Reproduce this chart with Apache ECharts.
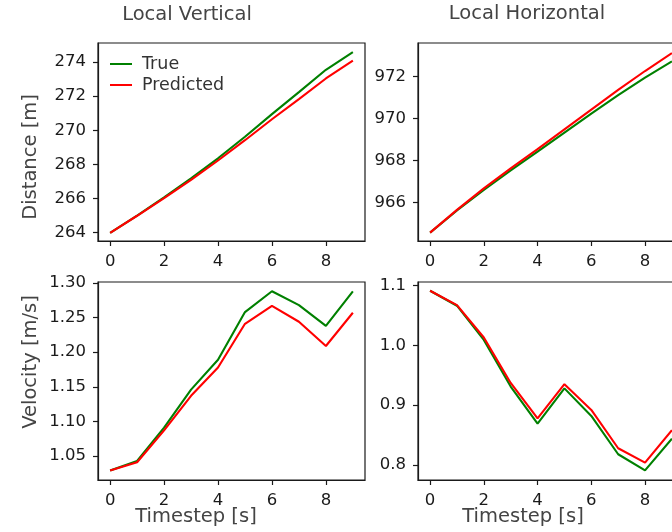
<!DOCTYPE html>
<html>
<head>
<meta charset="utf-8">
<script src="https://cdn.jsdelivr.net/npm/echarts@6/dist/echarts.min.js"></script>
<style>
  html, body { margin: 0; padding: 0; background: #fff; }
  #chart { width: 672px; height: 532px; }
</style>
</head>
<body>
<div id="chart"></div>
<script>
// Timesteps shared by every panel
const steps = [0, 1, 2, 3, 4, 5, 6, 7, 8, 9];

// Local vertical distance [m]
const vertDistTrue = [263.98, 265.00, 266.07, 267.18, 268.36, 269.62, 270.95, 272.24, 273.55, 274.59];
const vertDistPred = [263.98, 264.99, 266.03, 267.10, 268.23, 269.42, 270.65, 271.83, 273.04, 274.08];

// Local horizontal distance [m]
const horizDistTrue = [964.58, 965.63, 966.60, 967.53, 968.42, 969.33, 970.23, 971.10, 971.94, 972.71];
const horizDistPred = [964.58, 965.66, 966.68, 967.63, 968.54, 969.48, 970.42, 971.35, 972.25, 973.10];

// Local vertical velocity [m/s]
const vertVelTrue = [1.029, 1.043, 1.091, 1.146, 1.189, 1.258, 1.288, 1.268, 1.238, 1.288];
const vertVelPred = [1.029, 1.041, 1.087, 1.137, 1.178, 1.241, 1.267, 1.244, 1.209, 1.257];

// Local horizontal velocity [m/s]
const horizVelTrue = [1.091, 1.066, 1.009, 0.931, 0.869, 0.928, 0.882, 0.818, 0.791, 0.844];
const horizVelPred = [1.091, 1.067, 1.013, 0.937, 0.878, 0.935, 0.892, 0.828, 0.804, 0.858];

// Tick values
const stepTicks = [0, 2, 4, 6, 8];
const vertDistTicks = [264, 266, 268, 270, 272, 274];
const horizDistTicks = [966, 968, 970, 972];
const vertVelTicks = [1.05, 1.10, 1.15, 1.20, 1.25, 1.30];
const horizVelTicks = [0.8, 0.9, 1.0, 1.1];

// Text
const colTitles = ['Local Vertical', 'Local Horizontal'];
const rowTitles = ['Distance [m]', 'Velocity [m/s]'];
const xTitle = 'Timestep [s]';
const seriesNames = ['True', 'Predicted'];

const GREEN = '#008000';
const RED = '#ff0000';
const FONT = '"DejaVu Sans", sans-serif';
const INK = '#1a1a1a';
const TICK_SIZE = 16.5;
const TITLE_SIZE = 19.5;

const pairs = vals => steps.map((s, i) => [s, vals[i]]);

// The right-hand column runs past the page edge
const grids = [
  { left: 98, top: 43, width: 267, height: 198 },
  { left: 418, top: 43, width: 266, height: 198 },
  { left: 98, top: 282, width: 267, height: 198 },
  { left: 418, top: 282, width: 266, height: 198 }
].map(g => Object.assign({
  show: true, borderColor: INK, borderWidth: 1.2, backgroundColor: '#fff',
  containLabel: false, outerBoundsMode: 'none'
}, g));

function xAxis(i) {
  return {
    type: 'value', gridIndex: i, min: -0.45, max: 9.45,
    splitLine: { show: false },
    axisLine: { show: true, onZero: false, lineStyle: { color: INK, width: 1.2 } },
    axisTick: { show: true, length: 5, customValues: stepTicks, lineStyle: { color: INK, width: 1.2 } },
    axisLabel: { customValues: stepTicks, margin: 12, fontSize: TICK_SIZE, color: INK, fontFamily: FONT }
  };
}

function yAxis(i, min, max, ticks, digits) {
  return {
    type: 'value', gridIndex: i, min: min, max: max,
    splitLine: { show: false },
    axisLine: { show: true, onZero: false, lineStyle: { color: INK, width: 1.2 } },
    axisTick: { show: true, length: 5, customValues: ticks, lineStyle: { color: INK, width: 1.2 } },
    axisLabel: {
      customValues: ticks, margin: 12, fontSize: TICK_SIZE, color: INK, fontFamily: FONT,
      formatter: v => Number(v).toFixed(digits)
    }
  };
}

function line(name, i, vals, color) {
  return {
    name: name, type: 'line', xAxisIndex: i, yAxisIndex: i,
    data: pairs(vals), symbol: 'none', showSymbol: false,
    lineStyle: { color: color, width: 2.1 }, itemStyle: { color: color },
    emphasis: { disabled: true }
  };
}

function label(text, x, y, size, rotate) {
  return {
    type: 'text', x: x, y: y, rotation: rotate ? Math.PI / 2 : 0,
    style: {
      text: text, fontSize: size, fontFamily: FONT, fill: '#444',
      textAlign: 'center', textVerticalAlign: 'middle'
    }
  };
}

const chart = echarts.init(document.getElementById('chart'), null, { renderer: 'canvas' });
chart.setOption({
  animation: false,
  backgroundColor: '#fff',
  grid: grids,
  xAxis: [xAxis(0), xAxis(1), xAxis(2), xAxis(3)],
  yAxis: [
    yAxis(0, 263.51, 275.12, vertDistTicks, 0),
    yAxis(1, 964.18, 973.58, horizDistTicks, 0),
    yAxis(2, 1.0154, 1.3014, vertVelTicks, 2),
    yAxis(3, 0.775, 1.1056, horizVelTicks, 1)
  ],
  legend: {
    data: seriesNames, orient: 'vertical', left: 105, top: 50,
    icon: 'rect', itemWidth: 22, itemHeight: 2, itemGap: 3,
    textStyle: { fontSize: 17.5, color: '#333', fontFamily: FONT, padding: [0, 0, 0, 5] },
    selectedMode: false
  },
  series: [
    line(seriesNames[0], 0, vertDistTrue, GREEN),
    line(seriesNames[1], 0, vertDistPred, RED),
    line(seriesNames[0], 1, horizDistTrue, GREEN),
    line(seriesNames[1], 1, horizDistPred, RED),
    line(seriesNames[0], 2, vertVelTrue, GREEN),
    line(seriesNames[1], 2, vertVelPred, RED),
    line(seriesNames[0], 3, horizVelTrue, GREEN),
    line(seriesNames[1], 3, horizVelPred, RED)
  ],
  graphic: [
    label(colTitles[0], 187, 15, TITLE_SIZE, false),
    label(colTitles[1], 527, 14, TITLE_SIZE, false),
    label(rowTitles[0], 31, 157, TITLE_SIZE, true),
    label(rowTitles[1], 31, 362, TITLE_SIZE, true),
    label(xTitle, 196, 517, TITLE_SIZE, false),
    label(xTitle, 523, 517, TITLE_SIZE, false)
  ]
});
</script>
</body>
</html>
